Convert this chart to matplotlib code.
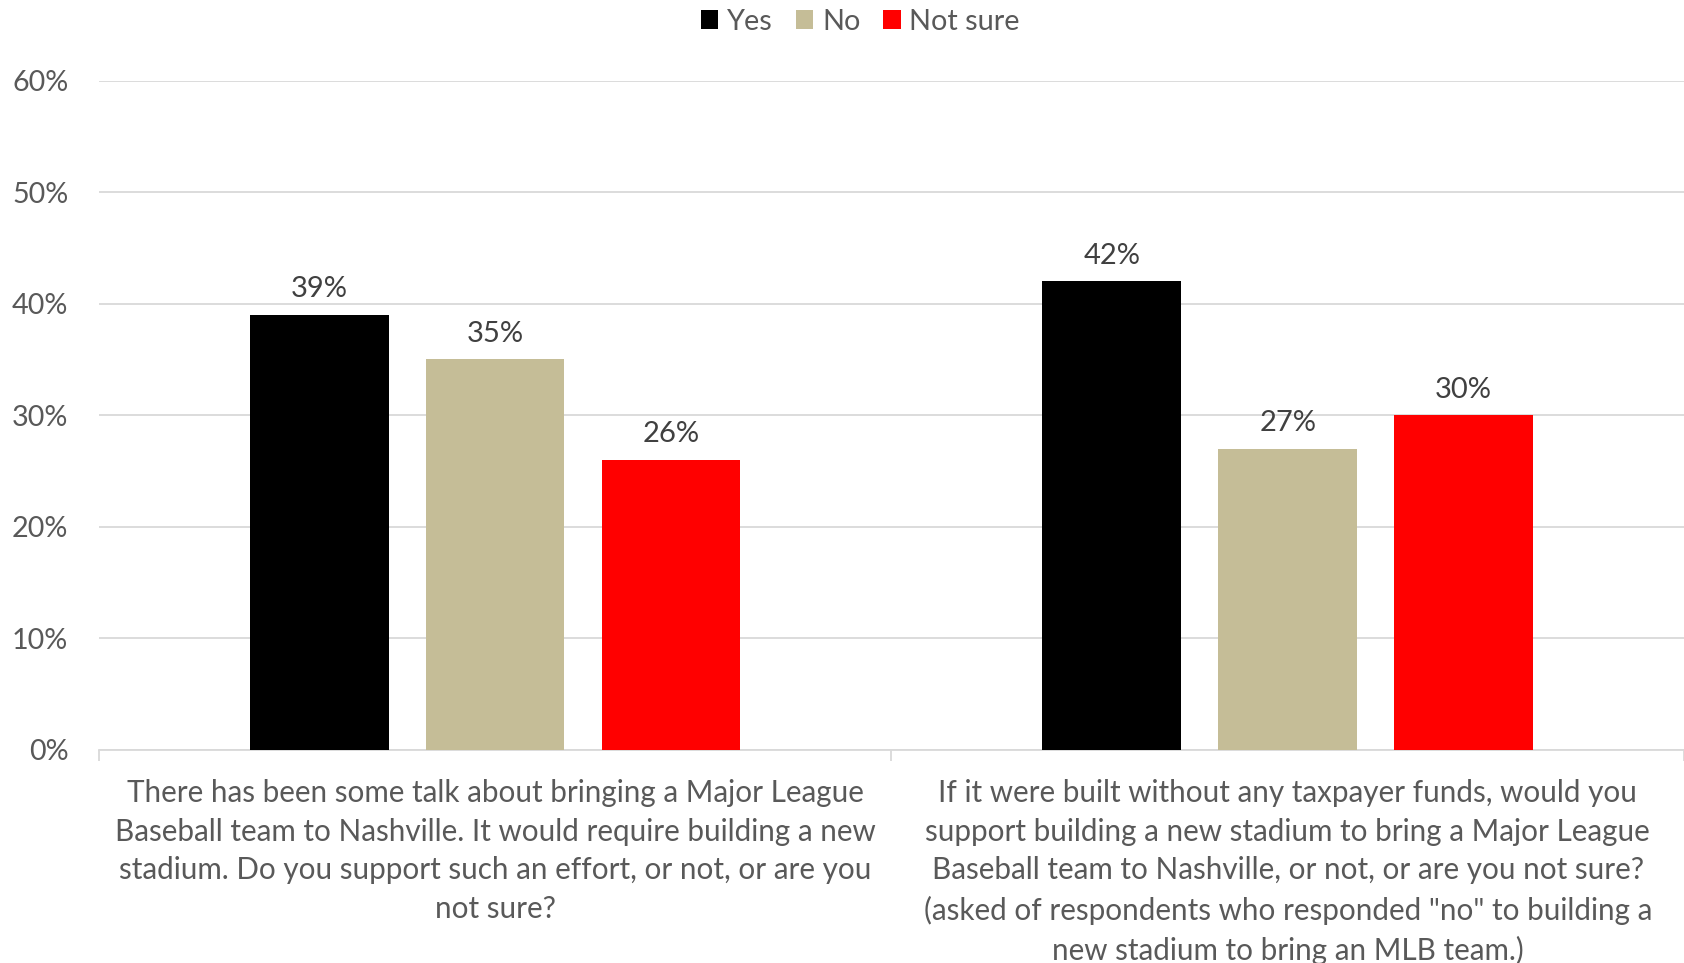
import matplotlib
matplotlib.use("Agg")
import matplotlib.pyplot as plt
import numpy as np
from matplotlib.ticker import PercentFormatter, MultipleLocator

questions = [
    "There has been some talk about bringing a Major League\n"
    "Baseball team to Nashville. It would require building a new\n"
    "stadium. Do you support such an effort, or not, or are you\n"
    "not sure?",
    "If it were built without any taxpayer funds, would you\n"
    "support building a new stadium to bring a Major League\n"
    "Baseball team to Nashville, or not, or are you not sure?\n"
    "(asked of respondents who responded \"no\" to building a\n"
    "new stadium to bring an MLB team.)",
]
series = ["Yes", "No", "Not sure"]
yes = [0.39, 0.42]
no = [0.35, 0.27]
not_sure = [0.26, 0.30]
colors = ["#000000", "#c5bd97", "#ff0000"]

plt.rcParams["font.family"] = ["Lato", "DejaVu Sans"]
text_color = "#595959"
grid_color = "#d9d9d9"

fig = plt.figure(figsize=(16.84, 9.63), dpi=100)
ax = fig.add_axes([0.0587, 0.2216, 0.9413, 0.6948])

x = np.arange(len(questions))
width = 0.175
step = 0.222
for i, (name, vals) in enumerate(zip(series, [yes, no, not_sure])):
    bars = ax.bar(x + (i - 1) * step, vals, width, color=colors[i], label=name, zorder=3)
    for b, v in zip(bars, vals):
        ax.annotate(f"{v*100:.0f}%", (b.get_x() + b.get_width() / 2, v),
                    xytext=(0, 9), textcoords="offset points",
                    ha="center", va="bottom", fontsize=21, color="#404040")

ax.set_xlim(-0.5, 1.5)
ax.set_ylim(0, 0.6)
ax.yaxis.set_major_locator(MultipleLocator(0.1))
ax.yaxis.set_major_formatter(PercentFormatter(1.0, decimals=0))
ax.grid(axis="y", color=grid_color, linewidth=1.3, zorder=0)
for s in ["top", "right", "left"]:
    ax.spines[s].set_visible(False)
ax.spines["bottom"].set_color(grid_color)
ax.spines["bottom"].set_linewidth(1.3)
ax.tick_params(axis="y", length=0, pad=22, labelsize=20.7, labelcolor=text_color)

ax.set_xticks([-0.5, 0.5, 1.5], minor=True)
ax.tick_params(axis="x", which="minor", length=8, color=grid_color, width=1.3)
ax.set_xticks(x)
ax.set_xticklabels(questions, fontsize=21.3, color=text_color, linespacing=1.47)
ax.tick_params(axis="x", which="major", length=0, pad=21)

fig.legend(loc="upper center", bbox_to_anchor=(0.511, 1.018), ncol=3, frameon=False,
           fontsize=20.8, labelcolor=text_color, handlelength=0.6, handleheight=0.6,
           handletextpad=0.3, columnspacing=0.8)

fig.savefig("out.png", dpi=100)
